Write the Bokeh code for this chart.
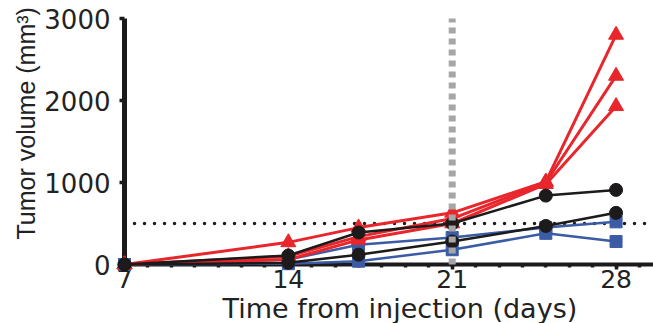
from bokeh.plotting import figure
from bokeh.models import FixedTicker, Title, Range1d
from bokeh.embed import file_html
from bokeh.resources import INLINE

days = [7, 14, 17, 21, 25, 28]
red_1 = [0, 270, 450, 630, 1010, 2800]
red_2 = [0, 100, 340, 560, 1000, 2300]
red_3 = [0, 60, 300, 500, 980, 1930]
black_1 = [0, 110, 390, 500, 840, 910]
black_2 = [0, 20, 120, 280, 470, 630]
blue_1 = [0, 60, 240, 330, 450, 520]
blue_2 = [0, 10, 40, 180, 380, 280]

x_ticks = [7, 14, 21, 28]
x_minor = list(range(7, 31))
y_ticks = [0, 1000, 2000, 3000]
threshold = 500
treatment_day = 21
x_lo, x_hi = 7, 29.6
y_lo, y_hi = 0, 3000

RED = "#e8262c"
BLUE = "#3b5ba5"
BLACK = "#1c1a1b"
GRAY = "#a6a6a8"

p = figure(width=653, height=323, output_backend="svg", toolbar_location=None,
           x_range=Range1d(x_lo, x_hi), y_range=Range1d(y_lo, y_hi),
           min_border_left=124, min_border_right=0, min_border_top=18,
           min_border_bottom=58)
p.outline_line_color = None
p.grid.visible = False
p.background_fill_color = "white"

# threshold dotted line
p.line([x_lo, x_hi], [threshold, threshold], line_color=BLACK, line_width=3.5,
       line_dash="0 10", line_cap="round", level="overlay")

for ys in (blue_1, blue_2):
    p.line(days, ys, line_color=BLUE, line_width=2.5, level="overlay")
    p.scatter(days, ys, marker="square", size=12, fill_color=BLUE,
              line_color=BLUE, level="overlay")
for ys in (red_1, red_2, red_3):
    p.line(days, ys, line_color=RED, line_width=3, level="overlay")
    p.scatter(days, ys, marker="triangle", size=15, fill_color=RED,
              line_color=RED, level="overlay")
for ys in (black_1, black_2):
    p.line(days, ys, line_color=BLACK, line_width=2.5, level="overlay")
    p.scatter(days, ys, marker="circle", size=13, fill_color=BLACK,
              line_color=BLACK, level="overlay")

# treatment day dashed vertical line
p.line([treatment_day, treatment_day], [y_lo, y_hi], line_color=GRAY,
       line_width=7, line_dash="6 5", level="overlay")

xa = p.xaxis[0]
xa.ticker = FixedTicker(ticks=x_ticks, minor_ticks=x_minor)
xa.axis_line_width = 4
xa.axis_line_color = BLACK
xa.major_tick_line_width = 3.5
xa.major_tick_line_color = BLACK
xa.major_tick_out = 5
xa.major_tick_in = 0
xa.minor_tick_line_width = 3.5
xa.minor_tick_line_color = BLACK
xa.minor_tick_out = 3
xa.minor_tick_in = 0
xa.major_label_text_font = "DejaVu Sans"
xa.major_label_text_font_size = "25px"
xa.major_label_text_color = "#222222"
xa.major_label_standoff = 0

ya = p.yaxis[0]
ya.ticker = FixedTicker(ticks=y_ticks, minor_ticks=[])
ya.axis_line_width = 5
ya.axis_line_color = BLACK
ya.major_tick_line_width = 3.5
ya.major_tick_line_color = BLACK
ya.major_tick_out = 5
ya.major_tick_in = 0
ya.minor_tick_out = 0
ya.major_label_text_font = "DejaVu Sans"
ya.major_label_text_font_size = "26px"
ya.major_label_text_color = "#222222"
ya.major_label_standoff = 9

yt = Title(text="Tumor volume (mm³)", align="left", offset=25, standoff=3,
           text_font="Liberation Sans", text_font_size="25px",
           text_font_style="normal", text_color="#222222")
p.add_layout(yt, "left")

xt = Title(text="Time from injection (days)", align="left", offset=98,
           standoff=0, text_font="DejaVu Sans", text_font_size="27px",
           text_font_style="normal", text_color="#222222")
p.add_layout(xt, "below")

open("out.html", "w").write(file_html(p, INLINE))
